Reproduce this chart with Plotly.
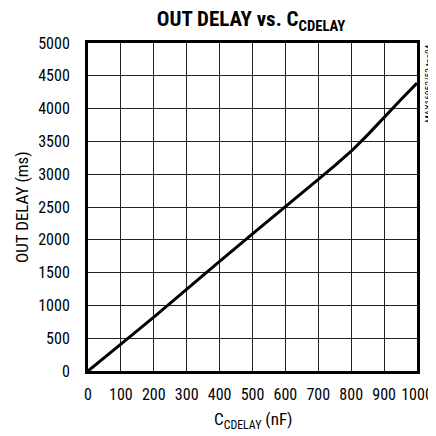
import plotly.graph_objects as go

# Data
c_cdelay_nf = [0, 50, 100, 200, 300, 400, 500, 600, 700, 750, 800, 850, 900, 950, 1000]
out_delay_ms = [0, 200, 410, 820, 1250, 1670, 2090, 2500, 2920, 3130, 3350, 3600, 3870, 4130, 4390]

x_ticks = [0, 100, 200, 300, 400, 500, 600, 700, 800, 900, 1000]
y_ticks = [0, 500, 1000, 1500, 2000, 2500, 3000, 3500, 4000, 4500, 5000]

FONT = "Roboto Condensed, Liberation Sans Narrow, sans-serif"

# The page body has an 8px default margin, so the figure is 428 px and sits at (8, 8)
W = H = 428

fig = go.Figure()
fig.add_trace(go.Scatter(
    x=c_cdelay_nf, y=out_delay_ms, mode="lines",
    line=dict(color="black", width=3), showlegend=False,
))

fig.update_layout(
    width=W, height=H,
    margin=dict(l=80, r=19, t=35, b=65),
    paper_bgcolor="white", plot_bgcolor="white",
    font=dict(family=FONT, size=16, color="black"),
    title=dict(
        text="<b>OUT DELAY vs. C<sub>CDELAY</sub></b>",
        x=243 / W, xanchor="center", y=1 - 11 / H, yanchor="middle",
        font=dict(family=FONT, size=21, color="black"),
    ),
    xaxis=dict(
        range=[0, 1000], tickvals=x_ticks, ticktext=[str(v) for v in x_ticks],
        showgrid=True, gridcolor="#222", gridwidth=1,
        showline=True, linecolor="black", linewidth=3, mirror=True,
        ticks="", zeroline=False, automargin=False,
        ticklabelstandoff=7,
        tickfont=dict(family=FONT, size=16),
    ),
    yaxis=dict(
        range=[0, 5000], tickvals=y_ticks, ticktext=[str(v) for v in y_ticks],
        showgrid=True, gridcolor="#222", gridwidth=1,
        showline=True, linecolor="black", linewidth=3, mirror=True,
        ticks="", zeroline=False, automargin=False,
        ticklabelstandoff=12,
        tickfont=dict(family=FONT, size=16),
    ),
)

# axis titles
fig.add_annotation(
    text="C<sub>CDELAY</sub> (nF)", xref="paper", yref="paper",
    x=0.5, y=0, xanchor="center", yanchor="middle", yshift=-49,
    showarrow=False, font=dict(family=FONT, size=17, color="black"),
)
fig.add_annotation(
    text="OUT DELAY (ms)", xref="paper", yref="paper",
    x=0, y=0.5, xanchor="center", yanchor="middle", xshift=-66,
    textangle=-90, showarrow=False, font=dict(family=FONT, size=17, color="black"),
)

fig.add_annotation(
    text="MAX16052/53 toc04", xref="paper", yref="paper",
    x=1, y=1, xanchor="left", yanchor="top", xshift=3, yshift=0,
    textangle=-90, showarrow=False,
    font=dict(family=FONT, size=9.5, color="black"),
)

fig.write_html("out.html")
